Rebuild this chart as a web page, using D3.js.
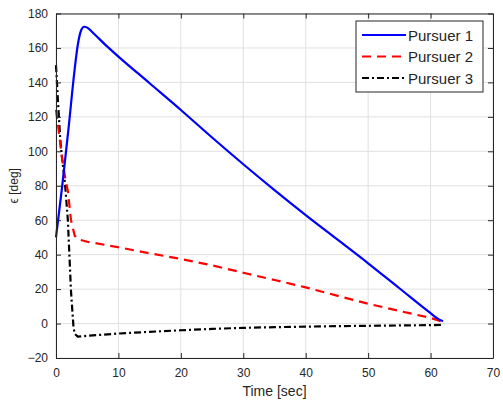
<!DOCTYPE html>
<html>
<head>
<meta charset="utf-8">
<script src="https://cdn.jsdelivr.net/npm/d3@7"></script>
<style>
  body { margin: 0; background: #fff; }
  svg { font-family: "Liberation Sans", Arial, sans-serif; }
</style>
</head>
<body>
<div id="chart"></div>
<script>
// Data
var seriesNames = ["Pursuer 1", "Pursuer 2", "Pursuer 3"];
var seriesColors = ["#0000ff", "#ff0000", "#000000"];
var seriesDash = [null, "9,6", "7,3,2,3"];

var p1Time = [0, 1, 2, 3, 3.5, 4, 4.5, 5, 6, 8, 10, 15, 20, 25, 30, 35, 40, 45, 50, 55, 60, 61, 61.7, 62];
var p1Eps  = [50, 80, 113, 148, 162, 170, 172.3, 171.8, 168.5, 161.5, 155, 139.5, 124, 108, 92.5, 77.5, 63, 49, 35, 20.5, 6, 3.2, 1.8, 1.5];

var p2Time = [0, 0.4, 1, 1.5, 1.9, 2.4, 3, 3.5, 5, 10, 15, 20, 25, 30, 35, 40, 45, 50, 55, 60, 61.5, 62];
var p2Eps  = [124, 113, 95, 84, 77, 60, 51, 49, 47.5, 44.3, 40.8, 37.5, 33.8, 29.5, 25.3, 21, 16.2, 11.5, 7.3, 3.3, 1.5, 1];

var p3Time = [0, 0.3, 0.7, 1.0, 1.4, 1.9, 2.4, 2.8, 3.0, 3.5, 5, 10, 15, 20, 25, 30, 35, 40, 45, 50, 55, 60, 62];
var p3Eps  = [150, 130, 106, 95, 83, 60, 19, -2, -6, -7.6, -7.1, -5.8, -4.8, -3.9, -3.1, -2.5, -2.1, -1.8, -1.5, -1.3, -1.1, -0.9, -0.8];

var xTicks = [0, 10, 20, 30, 40, 50, 60, 70];
var yTicks = [-20, 0, 20, 40, 60, 80, 100, 120, 140, 160, 180];

var svgWidth = 503;
var svgHeight = 405;
var margin = { top: 13.5, right: 10, bottom: 47, left: 56 };
var chartWidth = svgWidth - margin.left - margin.right;
var chartHeight = svgHeight - margin.top - margin.bottom;

var axisColor = "#262626";
var gridColor = "#e0e0e0";

var svg = d3.select("#chart")
  .append("svg")
  .attr("width", svgWidth)
  .attr("height", svgHeight);

var chartGroup = svg.append("g")
  .attr("transform", `translate(${margin.left}, ${margin.top})`);

var xScale = d3.scaleLinear().domain([0, 70]).range([0, chartWidth]);
var yScale = d3.scaleLinear().domain([-20, 180]).range([chartHeight, 0]);

// grid lines
chartGroup.append("g")
  .selectAll("line")
  .data(xTicks)
  .enter()
  .append("line")
  .attr("x1", d => xScale(d)).attr("x2", d => xScale(d))
  .attr("y1", 0).attr("y2", chartHeight)
  .attr("stroke", gridColor).attr("stroke-width", 1);

chartGroup.append("g")
  .selectAll("line")
  .data(yTicks)
  .enter()
  .append("line")
  .attr("x1", 0).attr("x2", chartWidth)
  .attr("y1", d => yScale(d)).attr("y2", d => yScale(d))
  .attr("stroke", gridColor).attr("stroke-width", 1);

var allSeries = [
  d3.zip(p1Time, p1Eps),
  d3.zip(p2Time, p2Eps),
  d3.zip(p3Time, p3Eps)
];

// draw in reverse so blue sits on top like the original
[2, 1, 0].forEach(function(i) {
  chartGroup.append("path")
    .datum(allSeries[i])
    .attr("fill", "none")
    .attr("stroke", seriesColors[i])
    .attr("stroke-width", 2.2)
    .attr("stroke-linejoin", "round")
    .attr("stroke-dasharray", seriesDash[i])
    .attr("d", d3.line().x(d => xScale(d[0])).y(d => yScale(d[1])).curve(i == 0 ? d3.curveMonotoneX : d3.curveLinear));
});

// axes: ticks inward on all four sides
function styleAxis(g) {
  g.select(".domain").attr("stroke", axisColor);
  g.selectAll(".tick line").attr("stroke", axisColor);
  g.selectAll(".tick text").attr("fill", axisColor).style("font-size", "12px");
}

chartGroup.append("g")
  .attr("transform", `translate(0, ${chartHeight})`)
  .call(d3.axisBottom(xScale).tickValues(xTicks).tickSizeInner(-5).tickSizeOuter(0).tickPadding(10))
  .call(styleAxis);

chartGroup.append("g")
  .call(d3.axisLeft(yScale).tickValues(yTicks).tickSizeInner(-5).tickSizeOuter(0).tickPadding(8))
  .call(styleAxis);

chartGroup.append("g")
  .call(d3.axisTop(xScale).tickValues(xTicks).tickSizeInner(-5).tickSizeOuter(0).tickFormat(""))
  .call(styleAxis);

chartGroup.append("g")
  .attr("transform", `translate(${chartWidth}, 0)`)
  .call(d3.axisRight(yScale).tickValues(yTicks).tickSizeInner(-5).tickSizeOuter(0).tickFormat(""))
  .call(styleAxis);

// axis labels
chartGroup.append("text")
  .attr("x", chartWidth / 2)
  .attr("y", chartHeight + 38)
  .attr("text-anchor", "middle")
  .attr("fill", axisColor)
  .style("font-size", "14px")
  .text("Time [sec]");

chartGroup.append("text")
  .attr("transform", `translate(${-38}, ${chartHeight / 2}) rotate(-90)`)
  .attr("text-anchor", "middle")
  .attr("fill", axisColor)
  .style("font-size", "12px")
  .text("ϵ [deg]");

// legend
var legend = svg.append("g")
  .attr("transform", "translate(356, 21)");

legend.append("rect")
  .attr("width", 127)
  .attr("height", 71)
  .attr("fill", "#fff")
  .attr("stroke", axisColor)
  .attr("stroke-width", 1);

seriesNames.forEach(function(name, i) {
  var yy = 14 + i * 21.5;
  legend.append("line")
    .attr("x1", 6).attr("x2", 50)
    .attr("y1", yy).attr("y2", yy)
    .attr("stroke", seriesColors[i])
    .attr("stroke-width", 2.2)
    .attr("stroke-dasharray", seriesDash[i]);
  legend.append("text")
    .attr("x", 52)
    .attr("y", yy + 5.5)
    .attr("fill", axisColor)
    .style("font-size", "15px")
    .text(name);
});
</script>
</body>
</html>
